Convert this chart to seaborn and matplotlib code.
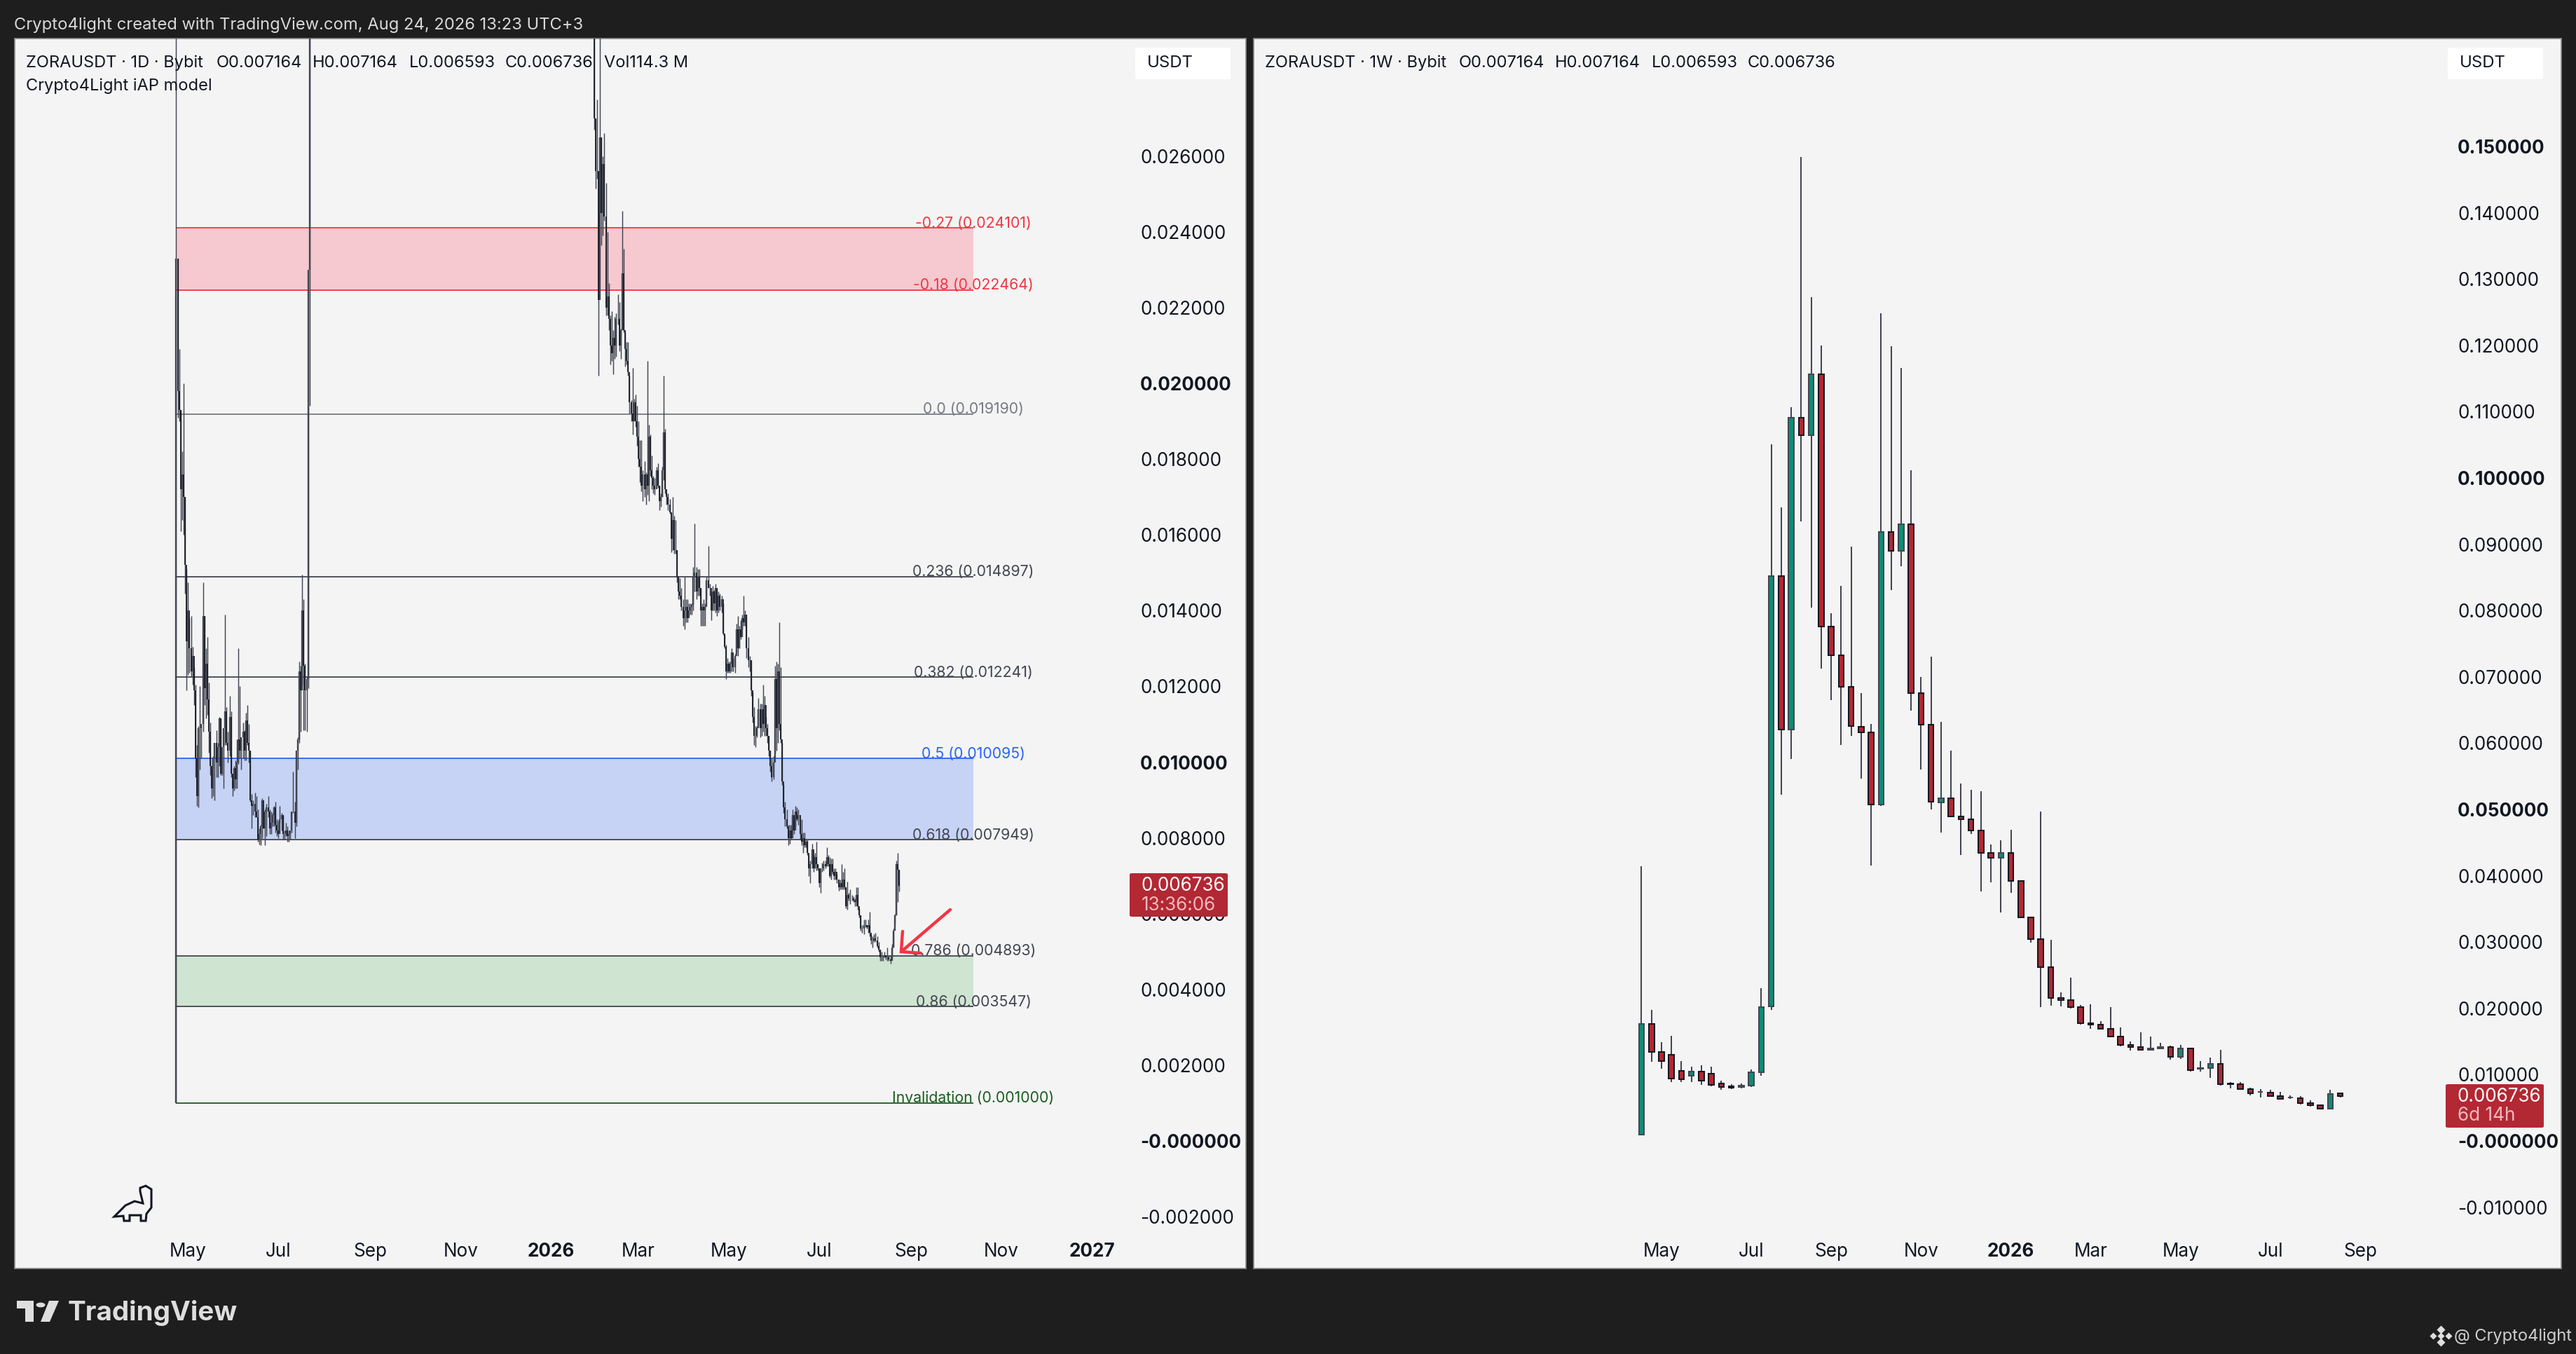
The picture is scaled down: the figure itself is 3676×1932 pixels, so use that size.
import matplotlib
matplotlib.use("Agg")
import matplotlib.pyplot as plt
from matplotlib.lines import Line2D
from matplotlib.patches import FancyBboxPatch, Polygon, Circle
import numpy as np
import pandas as pd
import seaborn as sns

W, H = 3676, 1932

# daily candles, prices in 0.001 USDT, first leg starts at listing
early_start = "2025-04-23"
early_high = [41.4, 23.3, 20.9, 19.3, 18.2, 20.0, 17.0, 15.1, 14.75, 13.8,
              13.85, 13.05, 12.5, 12.05, 10.45, 10.95, 12.0, 11.0, 14.75, 13.85,
              13.0, 13.3, 12.1, 11.05, 9.8, 10.15, 10.5, 10.85, 10.5, 11.2,
              11.15, 10.4, 10.9, 13.9, 11.45, 10.8, 11.75, 11.35, 9.65, 9.9,
              10.05, 10.6, 13.0, 12.0, 10.65, 11.05, 10.85, 11.3, 11.5, 11.0,
              10.3, 9.15, 9.0, 9.2, 9.1, 8.75, 8.25, 8.35, 9.05, 8.7,
              8.75, 8.9, 9.1, 8.75, 8.7, 8.65, 8.85, 8.95, 8.5, 8.45,
              8.85, 8.65, 8.6, 8.2, 8.4, 8.3, 8.2, 8.2, 8.7, 9.75,
              8.95, 10.3, 10.65, 12.65, 12.55, 14.95, 14.3, 12.6, 12.25, 23.0,
              105.0]
early_low = [1.0, 19.1, 19.0, 16.1, 16.4, 16.0, 14.45, 11.9, 12.3, 12.35,
             12.25, 12.05, 11.5, 9.6, 8.85, 8.8, 9.8, 10.1, 10.8, 11.5,
             11.15, 11.25, 10.25, 9.65, 9.05, 9.1, 9.0, 9.6, 9.6, 9.9,
             9.65, 9.65, 9.3, 10.45, 10.45, 10.0, 10.15, 9.6, 9.1, 9.25,
             9.3, 9.3, 9.95, 10.1, 9.8, 10.1, 10.05, 10.05, 10.45, 10.0,
             8.95, 8.25, 8.6, 8.55, 8.55, 7.9, 7.83, 7.8, 8.0, 8.25,
             7.8, 8.05, 8.55, 8.1, 8.1, 8.3, 8.3, 8.15, 8.05, 8.0,
             8.4, 8.2, 7.95, 7.95, 8.05, 7.9, 7.9, 7.95, 8.15, 8.65,
             8.0, 8.3, 9.8, 10.5, 10.8, 12.05, 10.85, 10.85, 10.8, 11.95,
             19.4]
early_close = [23.3, 19.8, 19.3, 17.2, 17.6, 17.0, 15.2, 13.2, 14.0, 13.0,
               12.4, 12.8, 11.9, 10.1, 9.1, 10.9, 10.9, 11.0, 13.85, 11.95,
               12.6, 11.65, 10.8, 9.9, 9.3, 10.1, 10.5, 10.0, 10.4, 11.15,
               9.7, 10.4, 10.9, 11.35, 10.5, 10.3, 11.2, 9.7, 9.3, 9.85,
               9.55, 10.0, 10.6, 10.3, 10.65, 10.8, 10.3, 11.1, 10.5, 10.3,
               9.0, 8.85, 8.9, 8.7, 8.55, 7.95, 8.1, 8.3, 9.0, 8.25,
               8.7, 8.8, 8.7, 8.25, 8.4, 8.6, 8.8, 8.35, 8.2, 8.1,
               8.5, 8.6, 8.1, 8.1, 8.2, 8.05, 8.1, 8.2, 8.7, 8.7,
               8.4, 10.3, 10.6, 12.4, 11.9, 14.0, 12.55, 11.9, 12.2, 23.0,
               60.0]

# second leg, back inside the visible range, ends on the last bar
late_end = "2026-08-24"
late_high = [31.0, 27.0, 27.5, 25.6, 29.8, 26.5, 26.0, 26.6, 25.3, 24.0,
             22.65, 21.8, 21.9, 21.4, 21.75, 21.85, 22.35, 22.15, 21.45, 24.55,
             23.55, 21.35, 21.1, 21.1, 20.2, 19.55, 20.4, 19.6, 19.7, 19.4,
             19.0, 18.5, 18.5, 17.7, 17.95, 17.65, 20.6, 18.9, 18.65, 18.1,
             17.55, 17.5, 17.8, 17.9, 17.3, 17.1, 17.8, 20.2, 18.8, 17.1,
             17.1, 16.95,
             16.6, 17.0, 16.5, 16.4, 15.6, 14.9, 14.85, 14.6, 14.3, 14.9,
             14.3, 14.3, 14.2, 14.2, 14.2, 15.15, 16.3, 15.15, 15.1, 15.1,
             14.6, 14.2,
             14.3, 14.2, 14.9, 15.7, 14.7, 14.4, 14.65, 14.55, 14.7, 14.6,
             14.5, 14.45, 14.4, 14.2, 13.35, 13.1, 12.75, 12.65, 12.65, 13.0,
             12.75, 12.85, 13.65, 13.85, 13.6, 13.75, 13.9, 14.4, 14.0, 13.9,
             13.3, 12.8, 12.7, 11.85, 11.45, 10.95, 10.95, 11.7, 11.55, 11.55,
             12.05, 11.75, 11.2, 11.0, 10.7, 10.3, 10.1, 10.15, 12.55, 12.65,
             12.6, 13.7, 12.5, 10.5, 9.4, 8.95, 8.75, 8.35, 8.35, 8.35,
             8.75, 8.5, 8.85, 8.8, 8.75, 8.5, 8.5, 8.15, 8.15, 7.95,
             7.95, 7.55, 7.4, 7.85, 7.55, 7.6, 7.9, 7.3, 7.15, 7.15,
             7.35, 7.4, 7.4, 7.75, 7.55, 7.5, 7.45, 7.45, 7.2, 7.2,
             7.05, 6.9, 6.9, 7.3, 7.1, 7.2, 6.7, 6.85, 6.55, 6.65,
             6.5, 6.45, 6.4, 6.7, 6.7, 6.15, 5.95, 5.7, 5.85, 5.85,
             5.7, 5.85, 6.05, 5.45, 5.4, 5.45, 5.5, 5.4, 5.25, 5.05,
             5.0, 4.9, 5.0, 4.9, 5.1, 4.9, 4.9, 5.2, 5.6, 6.0,
             7.4, 7.6, 7.164]
late_low = [26.7, 25.15, 25.4, 20.2, 24.7, 23.65, 23.9, 24.3, 21.8, 21.8,
            21.4, 20.5, 20.6, 20.25, 20.65, 20.7, 21.55, 20.85, 20.65, 21.4,
            21.35, 20.45, 20.5, 20.2, 19.2, 19.0, 18.65, 19.0, 18.85, 18.35,
            17.8, 17.4, 17.15, 16.9, 17.0, 16.8, 17.05, 16.9, 17.55, 17.2,
            17.1, 17.05, 17.3, 17.25, 16.65, 16.75, 17.0, 17.45, 17.1, 16.8,
            16.65, 16.55,
            15.55, 15.6, 15.5, 15.5, 14.75, 14.3, 14.3, 14.0, 13.6, 13.5,
            13.7, 13.7, 13.9, 13.9, 13.9, 14.0, 14.5, 14.3, 14.4, 14.4,
            13.6, 13.6,
            13.6, 13.6, 14.3, 14.6, 14.4, 13.75, 14.0, 14.0, 13.95, 13.85,
            13.95, 14.0, 13.95, 13.35, 13.0, 12.2, 12.35, 12.35, 12.35, 12.4,
            12.4, 12.35, 12.9, 12.8, 13.0, 13.25, 13.5, 13.6, 13.6, 12.75,
            12.5, 12.4, 11.75, 11.05, 10.45, 10.4, 10.65, 10.95, 10.65, 10.7,
            10.8, 10.7, 10.7, 10.5, 10.15, 9.75, 9.5, 9.55, 10.25, 10.3,
            10.5, 10.85, 10.5, 9.4, 8.65, 8.3, 8.25, 7.8, 7.85, 7.95,
            8.25, 8.1, 8.3, 8.45, 8.35, 7.95, 7.8, 7.6, 7.75, 7.75,
            7.55, 7.0, 6.8, 7.2, 7.1, 7.2, 7.15, 7.15, 6.7, 6.55,
            7.1, 7.15, 7.2, 7.25, 7.25, 6.95, 6.9, 7.05, 6.9, 6.9,
            6.8, 6.6, 6.65, 6.65, 6.65, 6.65, 6.15, 6.1, 6.35, 6.25,
            6.35, 6.3, 6.2, 6.2, 6.1, 5.9, 5.55, 5.5, 5.45, 5.65,
            5.6, 5.5, 5.4, 5.2, 5.1, 5.25, 5.25, 5.1, 5.0, 4.75,
            4.75, 4.75, 4.85, 4.8, 4.75, 4.75, 4.68, 4.85, 5.1, 5.75,
            5.95, 6.3, 6.593]
late_close = [27.0, 25.6, 25.6, 22.2, 26.5, 24.5, 25.8, 24.4, 22.0, 22.3,
              21.7, 21.0, 20.8, 21.2, 21.0, 21.7, 21.7, 21.0, 21.4, 22.9,
              21.4, 20.9, 20.6, 20.3, 19.5, 19.2, 19.0, 19.5, 19.0, 18.6,
              18.0, 17.8, 17.3, 17.6, 17.2, 17.6, 17.3, 18.6, 17.7, 17.5,
              17.3, 17.2, 17.7, 17.3, 16.9, 17.0, 17.7, 18.7, 17.2, 17.0,
              16.8, 16.6,
              15.9, 16.4, 15.6, 15.6, 14.9, 14.5, 14.4, 14.1, 13.8, 14.0,
              14.1, 13.8, 14.0, 14.1, 14.15, 14.9, 15.0, 14.5, 14.9, 14.6,
              14.0, 14.1,
              14.0, 14.1, 14.8, 14.6, 14.6, 14.0, 14.5, 14.2, 14.6, 14.0,
              14.4, 14.1, 14.3, 13.4, 13.05, 12.4, 12.6, 12.4, 12.6, 12.9,
              12.5, 12.8, 13.5, 13.0, 13.5, 13.3, 13.8, 13.7, 13.9, 13.0,
              12.7, 12.7, 11.9, 11.2, 10.7, 10.7, 10.9, 11.4, 10.9, 11.4,
              11.0, 11.5, 10.9, 10.7, 10.3, 9.9, 9.6, 10.0, 12.2, 10.9,
              12.4, 11.0, 10.6, 9.5, 8.8, 8.5, 8.3, 8.0, 8.2, 8.0,
              8.6, 8.2, 8.7, 8.5, 8.6, 8.1, 7.9, 8.0, 7.8, 7.9,
              7.6, 7.2, 7.3, 7.7, 7.2, 7.5, 7.3, 7.2, 6.8, 7.2,
              7.2, 7.3, 7.25, 7.5, 7.3, 7.0, 7.3, 7.1, 7.0, 7.1,
              6.9, 6.7, 6.8, 6.7, 6.9, 6.7, 6.2, 6.5, 6.4, 6.4,
              6.4, 6.35, 6.3, 6.5, 6.2, 5.95, 5.6, 5.6, 5.7, 5.7,
              5.65, 5.7, 5.5, 5.3, 5.3, 5.35, 5.3, 5.15, 5.05, 4.85,
              4.85, 4.85, 4.9, 4.85, 4.85, 4.8, 4.75, 5.1, 5.55, 5.95,
              7.3, 7.164, 6.736]

# weekly candles, prices in 0.001 USDT
week_start = "2025-04-21"
week_open = [1.0, 17.6, 13.4, 13.0, 10.6, 9.8, 10.5, 10.1, 8.7, 8.2,
             8.1, 8.4, 10.4, 20.3, 85.2, 62.0, 109.1, 106.5, 115.6, 77.6,
             73.3, 68.5, 62.5, 61.6, 50.7, 91.9, 89.0, 93.0, 67.6, 62.8,
             51.1, 51.7, 48.9, 48.5, 46.8, 43.4, 42.7, 43.4, 39.2, 33.7,
             30.4, 26.2, 21.6, 21.2, 20.2, 17.8, 17.5, 16.9, 15.7, 14.5,
             14.2, 13.7, 13.9, 14.2, 12.7, 14.0, 10.9, 11.0, 11.6, 8.7,
             8.6, 7.8, 7.4, 7.3, 6.8, 6.6, 6.5, 5.7, 5.4, 4.9, 7.164]
week_high = [41.4, 19.8, 14.9, 15.9, 12.0, 11.2, 11.4, 11.2, 9.1, 8.6,
             8.7, 10.8, 23.0, 105.1, 95.6, 110.7, 148.4, 127.3, 120.0, 79.6,
             83.7, 89.6, 67.6, 62.9, 124.8, 119.9, 116.6, 101.2, 70.0, 73.0,
             63.2, 58.9, 53.9, 53.0, 52.8, 44.7, 45.3, 46.9, 39.2, 33.7,
             49.7, 30.3, 22.4, 24.6, 20.5, 20.6, 18.1, 20.2, 17.1, 15.0,
             16.4, 15.7, 14.8, 14.4, 14.5, 14.0, 12.0, 12.6, 13.7, 8.9,
             8.9, 8.0, 7.8, 7.7, 7.4, 6.9, 6.8, 6.1, 5.5, 7.7, 7.164]
week_low = [1.0, 11.9, 10.9, 8.9, 8.9, 8.9, 8.5, 8.2, 7.7, 7.8,
            7.9, 8.1, 9.8, 19.8, 52.25, 57.6, 93.4, 80.4, 71.3, 66.5,
            59.7, 61.1, 54.6, 41.5, 50.5, 83.1, 86.7, 64.9, 56.0, 50.0,
            46.5, 48.9, 43.1, 46.3, 37.6, 39.0, 34.5, 37.4, 33.7, 29.9,
            20.2, 20.4, 20.3, 20.0, 17.5, 16.9, 16.8, 15.6, 14.3, 13.6,
            13.7, 13.7, 13.9, 12.3, 12.4, 10.5, 10.5, 9.5, 8.4, 7.9,
            7.7, 6.9, 6.6, 6.8, 6.2, 6.3, 5.5, 5.2, 4.9, 4.9, 6.593]
week_close = [17.6, 13.4, 12.1, 9.4, 9.3, 10.5, 9.1, 8.5, 8.1, 8.0,
              8.4, 10.4, 20.2, 85.2, 62.0, 109.1, 106.5, 115.6, 77.6, 73.3,
              68.5, 62.6, 61.6, 50.7, 91.9, 89.0, 93.0, 67.6, 62.8, 51.2,
              51.7, 48.9, 48.5, 46.8, 43.4, 42.7, 43.4, 39.2, 33.7, 30.4,
              26.2, 21.6, 21.2, 20.2, 17.8, 17.5, 16.9, 15.7, 14.5, 14.2,
              13.7, 13.9, 14.2, 12.7, 14.0, 10.7, 11.0, 11.6, 8.6, 8.6,
              7.8, 7.2, 7.4, 6.8, 6.3, 6.6, 5.7, 5.4, 4.9, 7.1, 6.736]

# fib levels of the left chart
fib_levels = [24.101, 22.464, 19.190, 14.897, 12.241, 10.095, 7.949, 4.893, 3.547, 1.000]
fib_labels = ["-0.27 (0.024101)", "-0.18 (0.022464)", "0.0 (0.019190)", "0.236 (0.014897)",
              "0.382 (0.012241)", "0.5 (0.010095)", "0.618 (0.007949)", "0.786 (0.004893)",
              "0.86 (0.003547)", "Invalidation (0.001000)"]
fib_colors = ["#f23645", "#f23645", "#787b86", "#434651", "#434651", "#2962ff",
              "#434651", "#434651", "#434651", "#1b5e20"]
fib_zones = [(22.464, 24.101, "#f5c9cf"), (7.949, 10.095, "#c6d3f5"), (3.547, 4.893, "#cfe4d1")]

left_yticks = [26, 24, 22, 20, 18, 16, 14, 12, 10, 8, 6, 4, 2, 0, -2]
left_ylabels = ["0.026000", "0.024000", "0.022000", "0.020000", "0.018000", "0.016000", "0.014000",
                "0.012000", "0.010000", "0.008000", "0.006000", "0.004000", "0.002000",
                "-0.000000", "-0.002000"]
left_ybold = ["0.020000", "0.010000", "-0.000000"]
left_xticks = ["2025-05-01", "2025-07-01", "2025-09-01", "2025-11-01", "2026-01-01", "2026-03-01",
               "2026-05-01", "2026-07-01", "2026-09-01", "2026-11-01", "2027-01-01"]
left_xlabels = ["May", "Jul", "Sep", "Nov", "2026", "Mar", "May", "Jul", "Sep", "Nov", "2027"]

right_yticks = [150, 140, 130, 120, 110, 100, 90, 80, 70, 60, 50, 40, 30, 20, 10, 0, -10]
right_ylabels = ["0.150000", "0.140000", "0.130000", "0.120000", "0.110000", "0.100000", "0.090000",
                 "0.080000", "0.070000", "0.060000", "0.050000", "0.040000", "0.030000",
                 "0.020000", "0.010000", "-0.000000", "-0.010000"]
right_ybold = ["0.150000", "0.100000", "0.050000", "-0.000000"]
right_xticks = ["2025-05-05", "2025-07-07", "2025-09-01", "2025-11-03", "2026-01-05", "2026-03-02",
                "2026-05-04", "2026-07-06", "2026-09-07"]
right_xlabels = ["May", "Jul", "Sep", "Nov", "2026", "Mar", "May", "Jul", "Sep"]

# header pieces with their offset from the start of the line
header_ohlc = ["O0.007164", "H0.007164", "L0.006593", "C0.006736"]

BG = "#1e1e1e"
PANEL = "#f4f4f4"
WICK = "#434651"
DARK = "#131722"
UP = "#0f8c76"
DOWN = "#b22833"

sns.set_theme(style="white")
plt.rcParams["font.family"] = ["Inter", "DejaVu Sans"]

fig = plt.figure(figsize=(W / 100, H / 100), dpi=100, facecolor=BG)


def make_axes(x0, y0, x1, y1):
    ax = fig.add_axes([x0 / W, 1 - y1 / H, (x1 - x0) / W, (y1 - y0) / H], facecolor=PANEL)
    for s in ax.spines.values():
        s.set_color("#8a8a8a")
        s.set_linewidth(1.2)
    return ax


def px_text(x, y, s, size=18.8, color="#131722", ha="left", **kw):
    return fig.text(x / W, 1 - y / H, s, fontsize=size, color=color, ha=ha, va="center", zorder=12, **kw)


def px_poly(points, **kw):
    pts = [(x / W, 1 - y / H) for x, y in points]
    fig.add_artist(Polygon(pts, closed=True, transform=fig.transFigure, zorder=11, **kw))


def px_box(x0, y0, x1, y1, color):
    fig.add_artist(FancyBboxPatch((x0 / W, 1 - y1 / H), (x1 - x0) / W, (y1 - y0) / H,
                                  boxstyle="round,pad=0,rounding_size=0.001", transform=fig.transFigure,
                                  facecolor=color, edgecolor="none", zorder=10))


def segments(dates, start, stop):
    # long table with one unit per candle, so lineplot draws each as its own line
    n = len(dates)
    return pd.DataFrame({
        "date": np.concatenate([dates, dates]),
        "price": np.concatenate([start, stop]),
        "bar": np.concatenate([np.arange(n), np.arange(n)]),
    })


def draw_line_set(ax, df, color, lw, zorder):
    if len(df) == 0:
        return
    sns.lineplot(data=df, x="date", y="price", units="bar", estimator=None, ax=ax, color=color,
                 linewidth=lw, zorder=zorder, legend=False, solid_capstyle="butt", sort=False)


def style_axis(ax, xticks, xlabels, yticks, ylabels, ybold, ypad, ylim, xlim):
    ax.set_xlim(pd.Timestamp(xlim[0]), pd.Timestamp(xlim[1]))
    ax.set_ylim(*ylim)
    ax.yaxis.tick_right()
    ax.set_yticks(yticks, ylabels)
    ax.set_xticks(pd.to_datetime(xticks), xlabels)
    ax.tick_params(axis="y", length=0, pad=ypad, labelsize=18.8, labelcolor="#131722")
    ax.tick_params(axis="x", length=0, pad=-26.5, labelsize=18.8, labelcolor="#131722")
    ax.set_xlabel("")
    ax.set_ylabel("")
    for t in ax.get_yticklabels():
        t.set_ha("left")
        if t.get_text() in ybold:
            t.set_fontweight("bold")
    for t in ax.get_xticklabels():
        if t.get_text() in ("2026", "2027"):
            t.set_fontweight("bold")


# left chart, 1D
ax1 = make_axes(21, 55, 1778, 1810)
early_dates = pd.date_range(early_start, periods=len(early_high), freq="D")
late_dates = pd.date_range(end=late_end, periods=len(late_high), freq="D")
day_dates = np.concatenate([early_dates.values, late_dates.values])
day_high = np.array(early_high + late_high)
day_low = np.array(early_low + late_low)
day_close = np.array(early_close + late_close)
day_open = np.concatenate([[1.0], early_close[:-1], [31.0], late_close[:-1]])

fib_left = pd.Timestamp(early_start)
fib_right = fib_left + pd.Timedelta(days=538)
for lo, hi, color in fib_zones:
    ax1.fill_between([fib_left, fib_right], lo, hi, color=color, lw=0, zorder=1)
for level, color in zip(fib_levels, fib_colors):
    ax1.hlines(level, fib_left, fib_right, color=color, lw=1.3, zorder=2)

draw_line_set(ax1, segments(day_dates, day_low, day_high), WICK, 1.05, 3)
rising = day_close >= day_open
draw_line_set(ax1, segments(day_dates[rising], day_open[rising], day_close[rising]), WICK, 1.7, 4)
draw_line_set(ax1, segments(day_dates[~rising], day_open[~rising], day_close[~rising]), DARK, 1.25, 5)

for level, label, color in zip(fib_levels, fib_labels, fib_colors):
    ax1.text(fib_right, level - 0.06, label, color=color, fontsize=15.3, ha="center", va="bottom", zorder=6)

style_axis(ax1, left_xticks, left_xlabels, left_yticks, left_ylabels, left_ybold, -108.7,
           (-3.367, 29.103), ("2025-01-04", "2027-04-15"))

# right chart, 1W
ax2 = make_axes(1789, 55, 3655, 1810)
week_dates = pd.date_range(week_start, periods=len(week_open), freq="7D")
w_open = np.array(week_open)
w_close = np.array(week_close)
draw_line_set(ax2, segments(week_dates.values, np.array(week_low), np.array(week_high)), WICK, 1.45, 3)
for mask, fill, edge in [(w_close >= w_open, UP, WICK), (w_close < w_open, DOWN, DARK)]:
    ax2.bar(week_dates[mask], np.abs(w_close - w_open)[mask], bottom=np.minimum(w_open, w_close)[mask],
            width=3.7, color=fill, edgecolor=edge, linewidth=1.45, zorder=4)
style_axis(ax2, right_xticks, right_xlabels, right_yticks, right_ylabels, right_ybold, -106.5,
           (-19.24, 166.28), ("2024-07-23", "2027-01-26"))

# headers and price labels
px_text(20, 36, "Crypto4light created with TradingView.com, Aug 24, 2026 13:23 UTC+3", size=17.1, color="#d8d8d8")
px_text(37, 90, "ZORAUSDT \u00b7 1D \u00b7 Bybit", size=17)
for dx, piece in zip((272, 409, 547, 684), header_ohlc):
    px_text(37 + dx, 90, piece, size=17)
px_text(862, 90, "Vol114.3 M", size=17)
px_text(37, 123, "Crypto4Light iAP model", size=17)
px_text(1805, 90, "ZORAUSDT \u00b7 1W \u00b7 Bybit", size=17)
for dx, piece in zip((277, 414, 552, 689), header_ohlc):
    px_text(1805 + dx, 90, piece, size=17)

for x0 in (1620, 3493):
    px_box(x0, 68, x0 + 136, 113, "#ffffff")
    px_text(x0 + 17, 90, "USDT", size=17.2)

px_box(1612, 1246, 1752, 1308, DOWN)
px_text(1629, 1264, "0.006736", color="#ffffff")
px_text(1629, 1292, "13:36:06", color="#f2b8bd")
px_box(3490, 1547, 3630, 1609, DOWN)
px_text(3507, 1565, "0.006736", color="#ffffff")
px_text(3507, 1592, "6d 14h", color="#f2b8bd")

# red arrow on the left chart
for pts in ([(1356, 1298), (1286, 1358)], [(1288, 1329), (1286, 1358), (1314, 1360)]):
    fig.add_artist(Line2D([p[0] / W for p in pts], [1 - p[1] / H for p in pts], color="#f23645", lw=3.2,
                          transform=fig.transFigure, zorder=11, solid_joinstyle="miter"))

# dino mark
dino = [(163, 1736), (179, 1720), (192, 1714), (204, 1717), (200, 1700), (200, 1695), (208, 1692), (216, 1697),
        (216, 1723), (209, 1732), (208, 1742), (201, 1742), (201, 1734), (185, 1734), (185, 1742), (177, 1742),
        (176, 1735)]
px_poly(dino, fill=False, edgecolor="#131722", linewidth=2.2)

# TradingView logo
LOGO = "#dedede"
px_poly([(24, 1856), (48, 1856), (48, 1886), (36, 1886), (36, 1867), (24, 1867)], facecolor=LOGO, edgecolor="none")
fig.add_artist(Circle((58 / W, 1 - 1862 / H), 6.5 / W, transform=fig.transFigure, facecolor=LOGO, edgecolor="none", zorder=11))
px_poly([(70, 1856), (84, 1856), (71, 1886), (58, 1886)], facecolor=LOGO, edgecolor="none")
px_text(97, 1873, "TradingView", size=27.8, color=LOGO, fontweight="bold")

# footer
for dx, dy, s in [(-11, 0, 5), (11, 0, 5), (0, -9, 6), (0, 9, 6), (0, 0, 5)]:
    fig.add_artist(Line2D([(3483 + dx) / W], [1 - (1906 + dy) / H], marker="D", ms=s, color="#dedede",
                          transform=fig.transFigure, zorder=11, lw=0, mec="none"))
px_text(3502, 1907, "@ Crypto4light", size=17, color="#cfcfcf")

fig.savefig("out.png", dpi=100, facecolor=fig.get_facecolor())
